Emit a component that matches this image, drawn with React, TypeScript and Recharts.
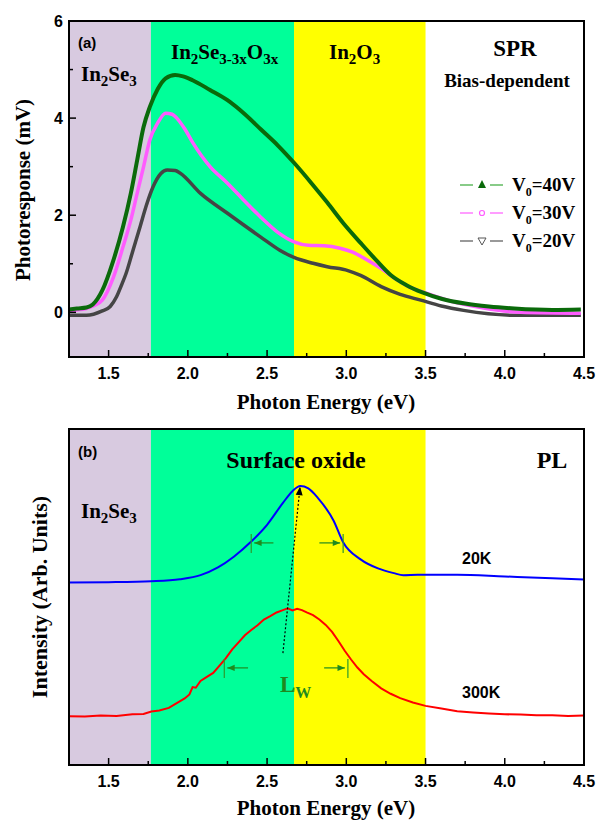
import React from 'react';
import { LineChart, Line, XAxis, YAxis, ReferenceArea } from 'recharts';

// photoresponse (mV) vs photon energy (eV), panel (a)
const energy40 = [1.25, 1.3, 1.36, 1.4, 1.46, 1.53, 1.59, 1.64, 1.68, 1.72, 1.76, 1.81, 1.86, 1.92, 1.97, 2.03, 2.14, 2.25, 2.36, 2.46, 2.57, 2.67, 2.78, 2.88, 2.98, 3.09, 3.19, 3.28, 3.38, 3.48, 3.6, 3.75, 3.9, 4.06, 4.3, 4.48];
const resp40 = [0.06, 0.08, 0.1, 0.16, 0.45, 1.07, 1.75, 2.45, 3.13, 3.81, 4.23, 4.6, 4.82, 4.89, 4.86, 4.78, 4.58, 4.37, 4.08, 3.77, 3.43, 3.08, 2.66, 2.26, 1.84, 1.43, 1.07, 0.77, 0.56, 0.41, 0.28, 0.18, 0.12, 0.08, 0.05, 0.06];

const energy30 = [1.25, 1.3, 1.36, 1.41, 1.46, 1.53, 1.59, 1.64, 1.68, 1.72, 1.76, 1.81, 1.86, 1.9, 1.93, 1.98, 2.03, 2.14, 2.25, 2.35, 2.46, 2.57, 2.67, 2.76, 2.86, 2.96, 3.04, 3.11, 3.22, 3.32, 3.4, 3.49, 3.64, 3.85, 4.1, 4.48];
const resp30 = [0.04, 0.05, 0.08, 0.14, 0.25, 0.72, 1.34, 1.9, 2.45, 2.99, 3.55, 3.9, 4.1, 4.08, 4.0, 3.78, 3.5, 3.0, 2.66, 2.32, 1.96, 1.64, 1.45, 1.38, 1.37, 1.32, 1.24, 1.12, 0.9, 0.67, 0.52, 0.41, 0.25, 0.1, 0.0, -0.02];

const energy20 = [1.25, 1.36, 1.46, 1.51, 1.55, 1.58, 1.61, 1.655, 1.7, 1.74, 1.78, 1.83, 1.87, 1.92, 1.95, 2.08, 2.25, 2.46, 2.58, 2.67, 2.79, 2.88, 3.01, 3.09, 3.22, 3.34, 3.47, 3.6, 3.74, 4.06, 4.48];
const resp20 = [-0.06, -0.06, 0.03, 0.12, 0.32, 0.55, 0.8, 1.29, 1.78, 2.22, 2.58, 2.86, 2.93, 2.92, 2.87, 2.45, 2.04, 1.55, 1.28, 1.13, 1.01, 0.94, 0.86, 0.76, 0.53, 0.37, 0.25, 0.13, 0.04, -0.06, -0.06];

// PL intensity (arb. units), panel (b)
const energy20K = [1.25, 1.5, 1.77, 1.95, 2.08, 2.19, 2.29, 2.4, 2.5, 2.6, 2.66, 2.71, 2.76, 2.82, 2.92, 2.98, 3.09, 3.2, 3.3, 3.36, 3.45, 3.55, 3.7, 4.0, 4.3, 4.5];
const pl20K = [54.3, 54.4, 54.7, 55.3, 56.5, 58.8, 62.0, 66.5, 71.5, 78.0, 81.5, 83.0, 82.3, 79.5, 72.7, 66.3, 61.2, 58.5, 57.1, 56.5, 56.6, 56.6, 56.6, 56.1, 55.6, 55.2];

const energy300K = [1.25, 1.35, 1.45, 1.55, 1.65, 1.72, 1.77, 1.82, 1.88, 1.93, 1.98, 2.01, 2.03, 2.05, 2.08, 2.12, 2.16, 2.2, 2.24, 2.28, 2.32, 2.36, 2.4, 2.44, 2.48, 2.52, 2.56, 2.6, 2.63, 2.66, 2.69, 2.72, 2.75, 2.79, 2.83, 2.87, 2.91, 2.95, 2.99, 3.03, 3.07, 3.11, 3.16, 3.22, 3.28, 3.34, 3.42, 3.5, 3.6, 3.7, 3.8, 3.9, 4.0, 4.1, 4.2, 4.3, 4.4, 4.5];
const pl300K = [14.5, 14.4, 14.7, 14.6, 15.1, 15.2, 15.9, 16.2, 17.0, 18.4, 19.8, 21.0, 23.2, 23.0, 25.0, 26.2, 27.4, 29.6, 31.8, 34.4, 36.5, 38.6, 40.2, 41.6, 43.3, 44.3, 45.4, 46.1, 46.6, 46.0, 46.5, 46.1, 45.4, 44.6, 43.3, 41.7, 39.6, 36.9, 34.0, 31.4, 29.0, 27.0, 25.0, 22.8, 21.2, 19.9, 18.6, 17.6, 16.8, 16.0, 15.6, 15.3, 15.1, 15.0, 14.8, 14.8, 14.6, 14.7];

const xTicks = [1.5, 1.75, 2.0, 2.25, 2.5, 2.75, 3.0, 3.25, 3.5, 3.75, 4.0, 4.25, 4.5];
const yTicksA = [0, 1, 2, 3, 4, 5, 6];

// phase regions (eV)
const regionInSe = [1.25, 1.767];
const regionMixed = [1.767, 2.67];
const regionOxide = [2.67, 3.5];

const toRows = (es: number[], vs: number[]) => es.map((e, i) => ({ e, v: vs[i] }));

const SERIF = '"Liberation Serif", "Times New Roman", serif';
const SANS = '"Liberation Sans", Arial, sans-serif';

const X0 = 1.25;
const X1 = 4.5;
const YA0 = -0.92;
const YA1 = 6;
const PLOT_L = 69;
const PLOT_R = 584;
const sx = (e: number) => PLOT_L + ((e - X0) / (X1 - X0)) * (PLOT_R - PLOT_L);
// panel (a) plot: y 21..357 ; panel (b) plot: y 429..765, domain 0..100
const syA = (v: number) => 357 - ((v - YA0) / (YA1 - YA0)) * 336;
const syB = (v: number) => 765 - (v / 100) * 336;

const isMajorX = (v: number) => Math.abs(v * 2 - Math.round(v * 2)) < 1e-6;

const makeXTick = (axisY: number) => (props: any) => {
  const { x, payload } = props;
  const v = payload.value;
  if (!isMajorX(v)) return <g />;
  return (
    <text x={x} y={axisY + 22} textAnchor="middle" fontFamily={SANS} fontWeight="bold" fontSize={16} fill="#000">
      {v.toFixed(1)}
    </text>
  );
};

const YTickA = (props: any) => {
  const { y, payload } = props;
  const v = payload.value;
  if (v % 2 !== 0) return <g />;
  return (
    <text x={63} y={y + 6} textAnchor="end" fontFamily={SANS} fontWeight="bold" fontSize={16} fill="#000">
      {v}
    </text>
  );
};

// inward tick marks, drawn on top of the coloured bands
const FrameTicks = ({ top, bottom, withY }: any) => (
  <g stroke="#000" strokeWidth={1.5}>
    {xTicks.map((t) => (
      <line key={t} x1={sx(t)} x2={sx(t)} y1={bottom} y2={bottom - (isMajorX(t) ? 7 : 4)} />
    ))}
    {withY &&
      yTicksA.map((t) => (
        <line key={'y' + t} x1={PLOT_L} x2={PLOT_L + (t % 2 === 0 ? 7 : 4)} y1={syA(t)} y2={syA(t)} />
      ))}
    <rect x={PLOT_L} y={top} width={PLOT_R - PLOT_L} height={bottom - top} fill="none" strokeWidth={2} />
  </g>
);

const Bands = (yTop: number, yBot: number) => [
  <ReferenceArea key="a" x1={regionInSe[0]} x2={regionInSe[1]} y1={yBot} y2={yTop} fill="#d8cae0" fillOpacity={1} stroke="none" />,
  <ReferenceArea key="b" x1={regionMixed[0]} x2={regionMixed[1]} y1={yBot} y2={yTop} fill="#00ff99" fillOpacity={1} stroke="none" />,
  <ReferenceArea key="c" x1={regionOxide[0]} x2={regionOxide[1]} y1={yBot} y2={yTop} fill="#ffff00" fillOpacity={1} stroke="none" />,
];

const Chem = ({ x, y, parts, size, sub, anchor = 'start', color = '#000' }: any) => (
  <text x={x} y={y} fontFamily={SERIF} fontWeight="bold" fontSize={size} fill={color} textAnchor={anchor}>
    {parts.map((p: [string, boolean], i: number) => {
      const prevSub = i > 0 && parts[i - 1][1];
      const dy = p[1] ? (prevSub ? 0 : size * 0.25) : prevSub ? -size * 0.25 : 0;
      return (
        <tspan key={i} dy={dy} fontSize={p[1] ? sub : size}>
          {p[0]}
        </tspan>
      );
    })}
  </text>
);

const LegendRow = ({ y, color, marker, label }: any) => (
  <g>
    <line x1={460} x2={473} y1={y} y2={y} stroke={color} strokeWidth={1.2} />
    <line x1={490} x2={503} y1={y} y2={y} stroke={color} strokeWidth={1.2} />
    {marker}
    <text x={512} y={y + 6} fontFamily={SERIF} fontWeight="bold" fontSize={19} fill="#000">
      <tspan>V</tspan>
      <tspan dy={5} fontSize={12}>0</tspan>
      <tspan dy={-5}>{label}</tspan>
    </text>
  </g>
);

const Arrow = ({ x1, y1, x2, y2, color, dash, width = 1.2, head = 6 }: any) => {
  const ang = Math.atan2(y2 - y1, x2 - x1);
  const hx1 = x2 - head * Math.cos(ang - 0.4);
  const hy1 = y2 - head * Math.sin(ang - 0.4);
  const hx2 = x2 - head * Math.cos(ang + 0.4);
  const hy2 = y2 - head * Math.sin(ang + 0.4);
  return (
    <g>
      <line x1={x1} y1={y1} x2={x2} y2={y2} stroke={color} strokeWidth={width} strokeDasharray={dash} />
      <polygon points={`${x2},${y2} ${hx1},${hy1} ${hx2},${hy2}`} fill={color} />
    </g>
  );
};

const HalfWidth = ({ eEdge, eInner, v, dir }: any) => {
  const x = sx(eEdge);
  const y = syB(v);
  return (
    <g>
      <line x1={x} x2={x} y1={y - 9} y2={y + 10} stroke="#2c9a2c" strokeWidth={1.2} />
      <Arrow x1={sx(eInner)} y1={y} x2={x + (dir < 0 ? 3 : -3)} y2={y} color="#1f8a1f" head={8} />
    </g>
  );
};

export default function App() {
  const wrap: React.CSSProperties = { position: 'absolute', left: 0, top: 0, width: 600, height: 822, background: '#fff' };
  return (
    <div style={wrap}>
      <div style={{ position: 'absolute', left: 0, top: 0 }}>
        <LineChart width={600} height={420} margin={{ top: 21, right: 16, left: 29, bottom: 0 }}>
          <XAxis type="number" dataKey="e" domain={[X0, X1]} ticks={xTicks} interval={0} allowDataOverflow height={63} axisLine={false} tickLine={false} tick={makeXTick(357)} />
          <YAxis type="number" dataKey="v" domain={[YA0, YA1]} ticks={yTicksA} interval={0} allowDataOverflow width={40} axisLine={false} tickLine={false} tick={YTickA} />
          {Bands(YA1, YA0)}
          <Line data={toRows(energy20, resp20)} dataKey="v" type="monotone" stroke="#454545" strokeWidth={3.5} dot={false} isAnimationActive={false} />
          <Line data={toRows(energy30, resp30)} dataKey="v" type="monotone" stroke="#ff5cff" strokeWidth={3.5} dot={false} isAnimationActive={false} />
          <Line data={toRows(energy40, resp40)} dataKey="v" type="monotone" stroke="#0a6a0a" strokeWidth={4} dot={false} isAnimationActive={false} />
        </LineChart>
      </div>
      <div style={{ position: 'absolute', left: 0, top: 400 }}>
        <LineChart width={600} height={422} margin={{ top: 29, right: 16, left: 29, bottom: 0 }}>
          <XAxis type="number" dataKey="e" domain={[X0, X1]} ticks={xTicks} interval={0} allowDataOverflow height={57} axisLine={false} tickLine={false} tick={makeXTick(365)} />
          <YAxis type="number" dataKey="v" domain={[0, 100]} allowDataOverflow width={40} axisLine={false} tickLine={false} tick={false} />
          {Bands(100, 0)}
          <Line data={toRows(energy20K, pl20K)} dataKey="v" type="monotone" stroke="#0000ff" strokeWidth={2} dot={false} isAnimationActive={false} />
          <Line data={toRows(energy300K, pl300K)} dataKey="v" type="linear" stroke="#ff0000" strokeWidth={2} dot={false} isAnimationActive={false} />
        </LineChart>
      </div>
      <svg width={600} height={822} style={{ position: 'absolute', left: 0, top: 0, pointerEvents: 'none' }}>
        {/* panel (a) */}
        <FrameTicks top={21} bottom={357} withY />
        <text x={78} y={48} fontFamily={SANS} fontWeight="bold" fontSize={15}>(a)</text>
        <Chem x={81} y={81} size={21} sub={15} parts={[['In', false], ['2', true], ['Se', false], ['3', true]]} />
        <Chem x={171} y={59} size={21} sub={15} parts={[['In', false], ['2', true], ['Se', false], ['3-3x', true], ['O', false], ['3x', true]]} />
        <Chem x={329} y={59} size={21} sub={15} parts={[['In', false], ['2', true], ['O', false], ['3', true]]} />
        <text x={515} y={56} textAnchor="middle" fontFamily={SERIF} fontWeight="bold" fontSize={23}>SPR</text>
        <text x={507} y={87} textAnchor="middle" fontFamily={SERIF} fontWeight="bold" fontSize={19}>Bias-dependent</text>
        <LegendRow y={185} color="#3aa83a" label="=40V" marker={<polygon points="482,180 478,188 486,188" fill="#0a6a0a" />} />
        <LegendRow y={213} color="#ff5cff" label="=30V" marker={<circle cx={482} cy={213} r={2.5} fill="none" stroke="#ff5cff" strokeWidth={1.2} />} />
        <LegendRow y={241} color="#555" label="=20V" marker={<polygon points="478,238 486,238 482,245" fill="none" stroke="#555" strokeWidth={1} />} />
        <text x={0} y={0} transform="translate(30,190) rotate(-90)" textAnchor="middle" fontFamily={SERIF} fontWeight="bold" fontSize={21}>Photoresponse (mV)</text>
        <text x={326} y={409} textAnchor="middle" fontFamily={SERIF} fontWeight="bold" fontSize={21}>Photon Energy (eV)</text>

        {/* panel (b) */}
        <FrameTicks top={429} bottom={765} withY={false} />
        <text x={78} y={457} fontFamily={SANS} fontWeight="bold" fontSize={15}>(b)</text>
        <Chem x={81} y={518} size={21} sub={15} parts={[['In', false], ['2', true], ['Se', false], ['3', true]]} />
        <text x={296} y={468} textAnchor="middle" fontFamily={SERIF} fontWeight="bold" fontSize={24}>Surface oxide</text>
        <text x={552} y={468} textAnchor="middle" fontFamily={SERIF} fontWeight="bold" fontSize={24}>PL</text>
        <text x={462} y={564} fontFamily={SANS} fontWeight="bold" fontSize={16}>20K</text>
        <text x={462} y={698} fontFamily={SANS} fontWeight="bold" fontSize={16}>300K</text>
        <Chem x={280} y={692} size={23} sub={16} color="#1f8a1f" parts={[['L', false], ['W', true]]} />
        <Arrow x1={sx(2.6)} y1={syB(33.3)} x2={sx(2.708)} y2={syB(82.8)} color="#000" dash="2 2" width={1.2} head={9} />
        <HalfWidth eEdge={2.4} eInner={2.54} v={66.1} dir={-1} />
        <HalfWidth eEdge={2.98} eInner={2.83} v={66.1} dir={1} />
        <HalfWidth eEdge={2.23} eInner={2.38} v={28.9} dir={-1} />
        <HalfWidth eEdge={3.01} eInner={2.86} v={28.9} dir={1} />
        <text x={0} y={0} transform="translate(47,597) rotate(-90)" textAnchor="middle" fontFamily={SERIF} fontWeight="bold" fontSize={22}>Intensity (Arb. Units)</text>
        <text x={326} y={815} textAnchor="middle" fontFamily={SERIF} fontWeight="bold" fontSize={21}>Photon Energy (eV)</text>
      </svg>
    </div>
  );
}
